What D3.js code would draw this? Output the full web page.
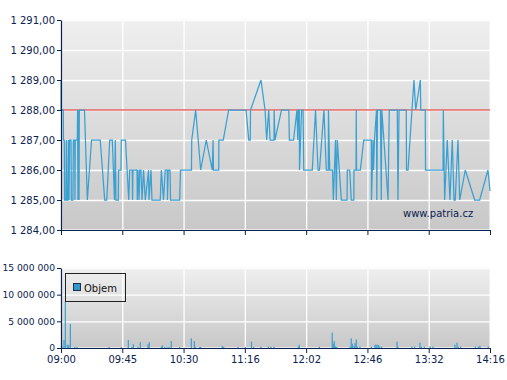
<!DOCTYPE html>
<html><head><meta charset="utf-8">
<script src="https://cdn.jsdelivr.net/npm/d3@7"></script>
<style>
body{margin:0;background:#fff;}
svg text{font-family:"DejaVu Sans",Verdana,sans-serif;}
</style>
</head><body><svg id="c" width="507" height="380"></svg>
<script>
// ---- data ----
const timeTickLabels = ["09:00","09:45","10:30","11:16","12:02","12:46","13:32","14:16"];
const sessionMinutes = 316; // 09:00 -> 14:16
const priceTicks = [1284,1285,1286,1287,1288,1289,1290,1291];
const volumeTicks = [0,5000000,10000000,15000000];
const referencePrice = 1288;
// trades: [minutes after 09:00, price]
const trades = [[0,1289],[0,1288],[1.7,1288],[1.8,1287],[2.4,1287],[2.7,1285],[3.7,1285],[3.9,1287],[4.4,1285],[5.2,1285],[5.4,1287],[5.9,1285],[6.3,1287],[7.4,1287],[7.6,1285],[8.8,1285],[9.1,1287],[10.1,1287],[10.3,1285],[10.5,1287],[12.0,1287],[12.2,1288],[12.5,1285],[12.9,1288],[13.3,1285],[13.5,1288],[17.3,1288],[19.4,1285],[22.5,1287],[28.9,1287],[32.2,1285],[33.7,1285],[35.9,1287],[37.8,1287],[39.4,1285],[40.0,1287],[40.5,1285],[42.2,1285],[42.4,1286],[44.2,1286],[44.4,1287],[47.5,1287],[49.9,1285],[50.6,1286],[52.5,1286],[52.7,1285],[53.0,1286],[56.0,1286],[56.2,1285],[56.7,1286],[57.5,1285],[58.0,1286],[58.9,1286],[59.7,1285],[60.8,1286],[62.1,1285],[64.5,1286],[64.8,1285],[66.3,1286],[67.0,1285],[73.1,1285],[73.9,1286],[75.5,1285],[76.8,1286],[78.3,1286],[78.4,1285],[79.0,1286],[80.3,1286],[80.7,1285],[87.4,1285],[88.0,1286],[96.1,1286],[96.3,1287],[99.2,1288],[102.9,1286],[107.0,1287],[111.4,1286],[112.0,1287],[112.3,1286],[116.2,1286],[116.3,1287],[119.5,1287],[123.5,1288],[136.3,1288],[138.3,1287],[139.4,1287],[139.6,1288],[147.3,1289],[150.3,1288],[151.5,1287],[153.0,1288],[154.0,1287],[156.9,1287],[157.0,1288],[157.6,1287],[162.4,1288],[167.8,1288],[168.2,1287],[171.3,1287],[173.8,1288],[174.4,1287],[174.8,1288],[175.5,1288],[175.7,1286],[177.2,1288],[178.3,1288],[178.8,1286],[185.1,1286],[187.5,1288],[189.3,1286],[190.4,1286],[193.7,1288],[195.4,1286],[196.9,1286],[197.0,1288],[197.9,1286],[200.0,1286],[200.6,1285],[202.2,1287],[202.8,1285],[203.5,1287],[206.5,1285],[210.7,1285],[210.9,1286],[212.7,1286],[213.8,1285],[215.7,1285],[215.8,1286],[217.3,1286],[217.5,1288],[217.7,1286],[220.5,1286],[223.0,1287],[228.6,1287],[228.7,1285],[229.3,1286],[229.8,1287],[230.2,1286],[230.9,1287],[232.4,1288],[232.6,1285],[233.1,1288],[235.3,1288],[235.9,1285],[236.3,1288],[240.9,1285],[241.8,1288],[247.7,1288],[248.2,1285],[249.0,1288],[254.3,1288],[254.5,1286],[255.6,1286],[260.0,1289],[261.3,1288],[264.7,1289],[265.0,1288],[268.3,1288],[268.5,1286],[281.4,1286],[281.6,1288],[282.6,1285],[284.5,1287],[286.5,1285],[288.2,1287],[289.5,1285],[290.4,1285],[292.4,1287],[293.7,1285],[297.8,1286],[304.7,1285],[308.4,1285],[314.5,1286],[316,1285.3]];
// volume: [minutes after 09:00, shares]
const volumes = [[0.7,400000],[2.2,1500000],[3.2,8700000],[4.6,600000],[5.7,600000],[6.9,4500000],[10.1,200000],[11.8,200000],[35.4,200000],[44.4,200000],[49.6,1500000],[52.3,200000],[53.3,700000],[56.7,200000],[58.4,1100000],[64.1,700000],[65.0,1100000],[73.9,200000],[74.6,500000],[76.4,200000],[78.1,150000],[79.6,200000],[81.2,1300000],[87.4,200000],[96.0,1800000],[98.2,1300000],[98.9,200000],[102.2,200000],[102.9,200000],[118.8,400000],[119.8,200000],[130.4,200000],[135.8,200000],[140.3,1200000],[141.9,200000],[147.3,250000],[152.7,250000],[154.7,250000],[156.9,250000],[174.8,250000],[175.5,600000],[190.3,250000],[199.8,2900000],[200.6,800000],[201.3,1300000],[202.1,300000],[203.1,200000],[212.9,250000],[213.8,1800000],[214.6,800000],[215.8,400000],[216.6,900000],[217.5,1600000],[218.3,250000],[220.2,250000],[228.6,250000],[231.3,600000],[232.0,600000],[232.8,600000],[233.7,600000],[234.8,300000],[236.2,250000],[247.5,1200000],[248.2,250000],[258.5,250000],[260.5,250000],[264.4,1000000],[265.4,250000],[267.6,250000],[271.8,300000],[274.0,300000],[290.2,600000],[291.7,1000000],[292.6,250000],[294.4,250000],[305.2,250000],[307.4,250000],[308.6,400000],[314.7,300000]];
const legendLabel = "Objem";
const watermark = "www.patria.cz";

// ---- drawing ----
const svg = d3.select("#c");
const L = 61, R = 490;
const x = d3.scaleLinear().domain([0, sessionMinutes]).range([L, R]);
const xTickVals = timeTickLabels.map((_, i) => i * sessionMinutes / (timeTickLabels.length - 1));
const yP = d3.scaleLinear().domain([1284, 1291]).range([230, 20]);
const yV = d3.scaleLinear().domain([0, 15000000]).range([348, 268]);
const loc = d3.formatLocale({decimal: ",", thousands: "\u00a0", grouping: [3], currency: ["", ""]});
const fmtP = loc.format(",.2f"), fmtV = loc.format(",d");
const navy = "#0b2150", blue = "#3aa0d2";

const defs = svg.append("defs");
const gr = defs.append("linearGradient").attr("id", "bg").attr("x1", 0).attr("y1", 0).attr("x2", 0).attr("y2", 1);
gr.append("stop").attr("offset", "0%").attr("stop-color", "#efefef");
gr.append("stop").attr("offset", "100%").attr("stop-color", "#c8c8c8");

function panel(y, ticks) {
  const [yb, yt] = y.range();
  svg.append("rect").attr("x", L).attr("y", yt).attr("width", R - L).attr("height", yb - yt)
    .attr("fill", "url(#bg)").attr("stroke", "#f6f6f6").attr("stroke-width", 1);
  svg.append("g").attr("transform", `translate(${L},0)`)
    .call(d3.axisLeft(y).tickValues(ticks).tickSize(-(R - L)).tickFormat(""))
    .call(g => { g.select(".domain").remove(); g.selectAll("line").attr("stroke", "#fff").attr("stroke-width", 1.3); });
  svg.append("g").attr("transform", `translate(0,${yt})`)
    .call(d3.axisBottom(x).tickValues(xTickVals).tickSize(yb - yt).tickFormat(""))
    .call(g => { g.select(".domain").remove(); g.selectAll("line").attr("stroke", "#fff").attr("stroke-width", 1.3); });
}
function axes(y, ticks, fmt, showXLabels, ySize, yPad) {
  const [yb] = y.range();
  svg.append("g").attr("transform", `translate(${L},0)`)
    .call(d3.axisLeft(y).tickValues(ticks).tickSize(4).tickSizeOuter(0).tickPadding(yPad).tickFormat(fmt))
    .call(g => { g.select(".domain").attr("stroke", navy).attr("stroke-width", 1.2); g.selectAll("line").attr("stroke", navy);
      g.selectAll("text").style("font-size", ySize + "px").attr("fill", navy); });
  svg.append("g").attr("transform", `translate(0,${yb})`)
    .call(d3.axisBottom(x).tickValues(xTickVals).tickSize(5).tickSizeOuter(0).tickPadding(3)
      .tickFormat((d, i) => showXLabels ? timeTickLabels[i] : ""))
    .call(g => { g.select(".domain").attr("stroke", navy).attr("stroke-width", 1.2); g.selectAll("line").attr("stroke", navy);
      g.selectAll("text").style("font-size", "10px").attr("fill", navy); });
}

// price panel
panel(yP, priceTicks);
svg.append("line").attr("x1", L).attr("x2", R).attr("y1", yP(referencePrice)).attr("y2", yP(referencePrice))
  .attr("stroke", "#e0221f").attr("stroke-width", 1.2);
svg.append("path").datum(trades)
  .attr("d", d3.line().x(d => x(d[0])).y(d => yP(d[1])))
  .attr("fill", "none").attr("stroke", blue).attr("stroke-width", 1.25);
svg.append("text").attr("x", 403).attr("y", 216.5).text(watermark).style("font-size", "10px").attr("fill", navy);
axes(yP, priceTicks, fmtP, false, 10, 2);

// volume panel
panel(yV, volumeTicks);
svg.append("g").selectAll("rect").data(volumes).join("rect")
  .attr("x", d => x(d[0]) - 0.6).attr("width", 1.2)
  .attr("y", d => yV(d[1])).attr("height", d => yV(0) - yV(d[1]))
  .attr("fill", blue);
const lg = svg.append("g");
lg.append("rect").attr("x", 65.5).attr("y", 273.5).attr("width", 60).attr("height", 28)
  .attr("fill", "none").attr("stroke", "#222").attr("stroke-width", 1);
lg.append("rect").attr("x", 73.5).attr("y", 283.5).attr("width", 7).attr("height", 7)
  .attr("fill", "#3399cc").attr("stroke", "#1c2f48").attr("stroke-width", 1);
lg.append("text").attr("x", 84).attr("y", 291.5).text(legendLabel).style("font-size", "10px").attr("fill", "#111");
axes(yV, volumeTicks, fmtV, true, 9.2, 2);
</script>
</body></html>
